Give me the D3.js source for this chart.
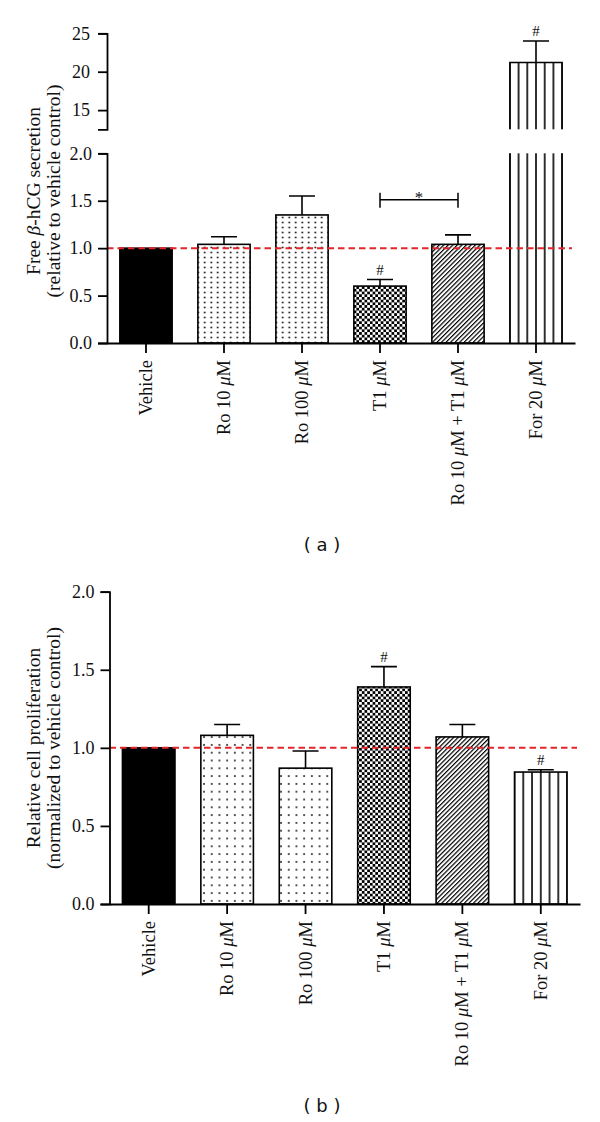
<!DOCTYPE html>
<html><head><meta charset="utf-8">
<script src="https://cdn.jsdelivr.net/npm/d3@7"></script>
<style>body{margin:0;background:#fff} svg{display:block}</style>
</head><body>
<svg id="chart" width="600" height="1122"></svg>
<script>
// ---------- data ----------
const categories = ["Vehicle", "Ro 10 μM", "Ro 100 μM", "T1 μM", "Ro 10 μM + T1 μM", "For 20 μM"];
const secretionMean  = [1.00, 1.04, 1.35, 0.60, 1.04, 21.2];
const secretionSEM   = [0.00, 0.08, 0.20, 0.07, 0.10, 2.8];
const secretionMarks = ["", "", "", "#", "", "#"];
const prolifMean  = [1.00, 1.08, 0.87, 1.39, 1.07, 0.845];
const prolifSEM   = [0.00, 0.07, 0.11, 0.13, 0.08, 0.015];
const prolifMarks = ["", "", "", "#", "", "#"];
const lowerTicks  = [0, 0.5, 1.0, 1.5, 2.0];
const upperTicks  = [15, 20, 25];
const lowerDomain = [0, 2];
const upperDomain = [12.5, 25];
const referenceValue = 1.0;
const secretionBracket = ["T1 μM", "Ro 10 μM + T1 μM", 1.51, "*"];
const titleA = ["Free |β|-hCG secretion", "(relative to vehicle control)"];
const titleB = ["Relative cell proliferation", "(normalized to vehicle control)"];
const captions = ["( a )", "( b )"];

// ---------- drawing ----------
const svg = d3.select("#chart");
svg.append("rect").attr("width", 600).attr("height", 1122).attr("fill", "#fff");
const defs = svg.append("defs");
const SERIF = "'Liberation Serif', 'Times New Roman', serif";

function dotPattern(id, w, h) {
  const p = defs.append("pattern").attr("id", id).attr("patternUnits", "userSpaceOnUse")
    .attr("width", w).attr("height", h);
  p.append("rect").attr("width", w).attr("height", h).attr("fill", "#fff");
  p.append("rect").attr("x", w / 2 - 0.8).attr("y", h / 2 - 0.8).attr("width", 1.6).attr("height", 1.6).attr("fill", "#000");
}
dotPattern("dotsA", 6.5, 5);
dotPattern("dotsB", 7.7, 7.8);
(function () {
  const s = 2.7;
  const p = defs.append("pattern").attr("id", "checker").attr("patternUnits", "userSpaceOnUse")
    .attr("width", 2 * s).attr("height", 2 * s);
  p.append("rect").attr("width", 2 * s).attr("height", 2 * s).attr("fill", "#fff");
  p.append("rect").attr("width", s).attr("height", s).attr("fill", "#000");
  p.append("rect").attr("x", s).attr("y", s).attr("width", s).attr("height", s).attr("fill", "#000");
  const q = defs.append("pattern").attr("id", "diag").attr("patternUnits", "userSpaceOnUse")
    .attr("width", 3.2).attr("height", 3.2).attr("patternTransform", "rotate(45)");
  q.append("rect").attr("width", 3.2).attr("height", 3.2).attr("fill", "#fff");
  q.append("rect").attr("width", 1.2).attr("height", 3.2).attr("fill", "#000");
})();
function vlinePattern(id, x0, bw) {
  const w = bw / 6;
  const p = defs.append("pattern").attr("id", id).attr("patternUnits", "userSpaceOnUse")
    .attr("width", w).attr("height", 10).attr("patternTransform", `translate(${x0},0)`);
  p.append("rect").attr("width", w).attr("height", 10).attr("fill", "#fff");
  p.append("rect").attr("x", 0).attr("width", 0.8).attr("height", 10).attr("fill", "#000");
  p.append("rect").attr("x", w - 0.8).attr("width", 0.8).attr("height", 10).attr("fill", "#000");
}

function addRich(textSel, str) {
  // "|x|" marks italic, μ always italic
  const parts = str.split("|");
  parts.forEach((part, i) => {
    if (i % 2 === 1) { textSel.append("tspan").attr("font-style", "italic").text(part); return; }
    const sub = part.split("μ");
    sub.forEach((s, j) => {
      if (j > 0) textSel.append("tspan").attr("font-style", "italic").text("μ");
      if (s) textSel.append("tspan").text(s);
    });
  });
}

function drawPanel(cfg) {
  const g = svg.append("g");
  const x = d3.scaleBand().domain(categories).range([cfg.x0, cfg.x1]).paddingInner(0.33).paddingOuter(0.165);
  const yLow = d3.scaleLinear().domain(lowerDomain).range(cfg.lowRange);
  const yHigh = cfg.highRange ? d3.scaleLinear().domain(upperDomain).range(cfg.highRange) : null;
  const bw = x.bandwidth();
  const fills = ["#000", `url(#${cfg.dots})`, `url(#${cfg.dots})`, "url(#checker)", "url(#diag)", `url(#vl${cfg.id})`];
  vlinePattern("vl" + cfg.id, x(categories[5]), bw);

  // bars
  categories.forEach((c, i) => {
    const v = cfg.means[i], bx = x(c);
    const bars = g.append("g").attr("stroke", "#000").attr("stroke-width", 1.6);
    if (v <= lowerDomain[1] || !yHigh) {
      bars.append("rect").attr("x", bx).attr("y", yLow(v)).attr("width", bw)
        .attr("height", yLow(0) - yLow(v)).attr("fill", fills[i]);
    } else {
      const t = yLow(lowerDomain[1]), b = yLow(0);
      bars.append("rect").attr("x", bx).attr("y", t).attr("width", bw).attr("height", b - t)
        .attr("fill", fills[i]).attr("stroke", "none");
      bars.append("path").attr("fill", "none").attr("d", `M${bx},${t}V${b}M${bx + bw},${t}V${b}`);
      const ut = yHigh(v), ub = yHigh(upperDomain[0]);
      bars.append("rect").attr("x", bx).attr("y", ut).attr("width", bw).attr("height", ub - ut)
        .attr("fill", fills[i]).attr("stroke", "none");
      bars.append("path").attr("fill", "none").attr("d", `M${bx},${ub}V${ut}H${bx + bw}V${ub}`);
    }
    // error bar
    const sem = cfg.sems[i];
    const sc = (v > lowerDomain[1] && yHigh) ? yHigh : yLow;
    const cx = bx + bw / 2;
    const tipY = sc(v + sem);
    if (sem > 0) {
      g.append("path").attr("stroke", "#000").attr("stroke-width", 1.6).attr("fill", "none")
        .attr("d", `M${cx},${sc(v)}V${tipY}M${cx - 13},${tipY}H${cx + 13}`);
    }
    if (cfg.marks[i]) {
      g.append("text").attr("x", cx).attr("y", tipY - 4.5).attr("text-anchor", "middle")
        .attr("font-family", SERIF).attr("font-size", 15).attr("fill", "#111").text(cfg.marks[i]);
    }
  });

  // reference line
  g.append("line").attr("x1", cfg.x0).attr("x2", cfg.x1 - 3).attr("y1", yLow(referenceValue)).attr("y2", yLow(referenceValue))
    .attr("stroke", "#e3262b").attr("stroke-width", 2).attr("stroke-dasharray", "6.5,4");

  // significance bracket
  if (cfg.bracket) {
    const [a, b, val, lab] = cfg.bracket;
    const xa = x(a) + bw / 2, xb = x(b) + bw / 2, yy = yLow(val);
    g.append("path").attr("stroke", "#000").attr("stroke-width", 1.5).attr("fill", "none")
      .attr("d", `M${xa},${yy + 8}V${yy - 7}M${xa},${yy}H${xb}M${xb},${yy + 8}V${yy - 7}`);
    g.append("text").attr("x", (xa + xb) / 2).attr("y", yy + 3).attr("text-anchor", "middle")
      .attr("font-family", SERIF).attr("font-size", 17).attr("fill", "#111").text(lab);
  }

  // axes
  const styleAxis = sel => {
    sel.attr("font-family", SERIF).attr("font-size", 18);
    sel.selectAll("path,line").attr("stroke", "#000").attr("stroke-width", 1.8);
    sel.selectAll("text").attr("font-family", SERIF).attr("font-size", 18).attr("fill", "#111");
  };
  g.append("g").attr("transform", `translate(${cfg.x0},0)`)
    .call(d3.axisLeft(yLow).tickValues(lowerTicks).tickFormat(d3.format(".1f")).tickSize(9).tickPadding(6))
    .call(styleAxis);
  if (yHigh) {
    g.append("g").attr("transform", `translate(${cfg.x0},0)`)
      .call(d3.axisLeft(yHigh).tickValues(upperTicks).tickFormat(d3.format("d")).tickSize(9).tickPadding(8))
      .call(styleAxis);
  }
  const xa = g.append("g").attr("transform", `translate(0,${yLow(0)})`)
    .call(d3.axisBottom(x).tickSize(10).tickSizeOuter(0))
    .call(styleAxis);
  xa.selectAll(".tick text").each(function (d) {
    const t = d3.select(this);
    t.text(null).attr("transform", "rotate(-90)").attr("x", -17).attr("y", 6).attr("dy", null)
      .attr("text-anchor", "end").attr("font-size", 18.5);
    addRich(t, d);
  });

  // y title
  cfg.title.forEach((line, k) => {
    const t = g.append("text").attr("transform", `translate(${40 + 20 * k},${cfg.titleY}) rotate(-90)`)
      .attr("text-anchor", "middle").attr("font-family", SERIF).attr("font-size", 19.5).attr("fill", "#111");
    addRich(t, line);
  });

  // caption
  g.append("text").attr("x", 322).attr("y", cfg.captionY).attr("text-anchor", "middle")
    .attr("font-family", "'DejaVu Sans', Verdana, sans-serif").attr("font-size", 18).attr("fill", "#111")
    .text(cfg.caption);
}

drawPanel({
  id: "A", x0: 107, x1: 575, lowRange: [343, 153.3], highRange: [129.3, 33.3],
  means: secretionMean, sems: secretionSEM, marks: secretionMarks, dots: "dotsA",
  bracket: secretionBracket, title: titleA, titleY: 191, caption: captions[0], captionY: 551
});
drawPanel({
  id: "B", x0: 109.5, x1: 580, lowRange: [904, 591.7], highRange: null,
  means: prolifMean, sems: prolifSEM, marks: prolifMarks, dots: "dotsB",
  bracket: null, title: titleB, titleY: 748, caption: captions[1], captionY: 1112
});
</script>
</body></html>
